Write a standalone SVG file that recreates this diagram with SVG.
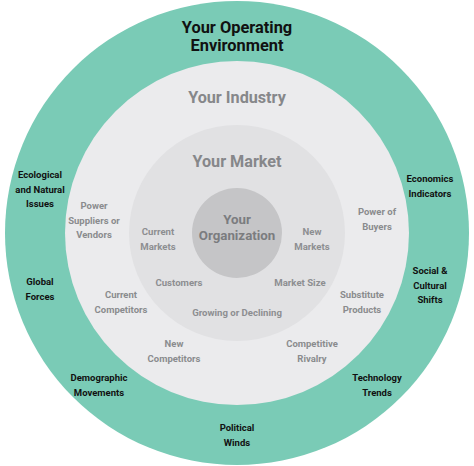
<svg xmlns="http://www.w3.org/2000/svg" width="474" height="466" viewBox="0 0 474 466">
<style>
text{font-family:Roboto,"Liberation Sans",sans-serif;text-anchor:middle}
.env{fill:#111;font-size:9.5px;font-weight:700}
.ind{fill:#8a8b8e;font-size:9.5px;font-weight:700}
.mkt{fill:#8d8e91;font-size:9.6px;font-weight:700}
.t1{fill:#111;font-size:16.4px;font-weight:700}
.t2{fill:#86878a;font-size:16.2px;font-weight:700}
.t3{fill:#7b7c7f;font-size:13.3px;font-weight:700}
</style>
<rect width="474" height="466" fill="#ffffff"/>
<g id="environment">
<circle cx="237" cy="233" r="232" fill="#7acbb6"/>
<text class="t1" x="237" y="33">Your Operating</text>
<text class="t1" x="237" y="51">Environment</text>
</g>
<g id="industry">
<circle cx="237" cy="233" r="172" fill="#ebebed"/>
<text class="t2" x="237" y="103">Your Industry</text>
</g>
<g id="market">
<circle cx="237" cy="233" r="108" fill="#e1e1e3"/>
<text class="t2" x="237" y="167">Your Market</text>
</g>
<g id="organization">
<circle cx="237" cy="233" r="45" fill="#c5c5c7"/>
<text class="t3" x="237" y="224">Your</text>
<text class="t3" x="237" y="240">Organization</text>
</g>
<g id="env-labels">
<text class="env" x="40" y="178">Ecological</text>
<text class="env" x="40" y="192.5">and Natural</text>
<text class="env" x="40" y="207">Issues</text>
<text class="env" x="40" y="285">Global</text>
<text class="env" x="40" y="299.5">Forces</text>
<text class="env" x="99" y="381">Demographic</text>
<text class="env" x="99" y="395.5">Movements</text>
<text class="env" x="237" y="431">Political</text>
<text class="env" x="237" y="445.5">Winds</text>
<text class="env" x="377" y="381">Technology</text>
<text class="env" x="377" y="395.5">Trends</text>
<text class="env" x="430" y="274">Social &amp;</text>
<text class="env" x="430" y="288.5">Cultural</text>
<text class="env" x="430" y="303">Shifts</text>
<text class="env" x="430" y="182">Economics</text>
<text class="env" x="430" y="196.5">Indicators</text>
</g>
<g id="industry-labels">
<text class="ind" x="94" y="209">Power</text>
<text class="ind" x="94" y="223.5">Suppliers or</text>
<text class="ind" x="94" y="238">Vendors</text>
<text class="ind" x="377" y="215">Power of</text>
<text class="ind" x="377" y="229.5">Buyers</text>
<text class="ind" x="121" y="298">Current</text>
<text class="ind" x="121" y="312.5">Competitors</text>
<text class="ind" x="362" y="298">Substitute</text>
<text class="ind" x="362" y="312.5">Products</text>
<text class="ind" x="174" y="347">New</text>
<text class="ind" x="174" y="361.5">Competitors</text>
<text class="ind" x="312" y="347">Competitive</text>
<text class="ind" x="312" y="361.5">Rivalry</text>
</g>
<g id="market-labels">
<text class="mkt" x="158" y="235">Current</text>
<text class="mkt" x="158" y="249.5">Markets</text>
<text class="mkt" x="312" y="235">New</text>
<text class="mkt" x="312" y="249.5">Markets</text>
<text class="mkt" x="179" y="286">Customers</text>
<text class="mkt" x="300" y="286">Market Size</text>
<text class="mkt" x="237" y="316">Growing or Declining</text>
</g>
</svg>
